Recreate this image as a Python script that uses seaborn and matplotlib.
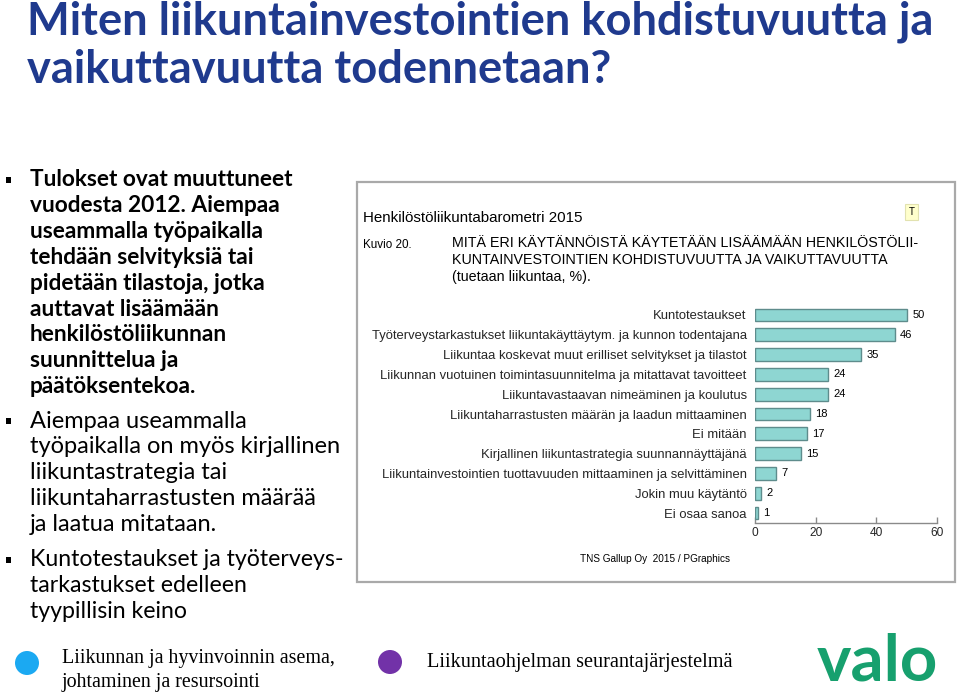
import matplotlib
matplotlib.use("Agg")
import matplotlib.pyplot as plt
import matplotlib.patches as mpatches
import seaborn as sns
import pandas as pd

# ---------------- data ----------------
categories = [
    "Kuntotestaukset",
    "Työterveystarkastukset liikuntakäyttäytym. ja kunnon todentajana",
    "Liikuntaa koskevat muut erilliset selvitykset ja tilastot",
    "Liikunnan vuotuinen toimintasuunnitelma ja mitattavat tavoitteet",
    "Liikuntavastaavan nimeäminen ja koulutus",
    "Liikuntaharrastusten määrän ja laadun mittaaminen",
    "Ei mitään",
    "Kirjallinen liikuntastrategia suunnannäyttäjänä",
    "Liikuntainvestointien tuottavuuden mittaaminen ja selvittäminen",
    "Jokin muu käytäntö",
    "Ei osaa sanoa",
]
values = [50, 46, 35, 24, 24, 18, 17, 15, 7, 2, 1]
x_ticks = [0, 20, 40, 60]

slide_title = ["Miten liikuntainvestointien kohdistuvuutta ja",
               "vaikuttavuutta todennetaan?"]
bullet1 = ["Tulokset ovat muuttuneet", "vuodesta 2012. Aiempaa",
           "useammalla työpaikalla", "tehdään selvityksiä tai",
           "pidetään tilastoja, jotka", "auttavat lisäämään",
           "henkilöstöliikunnan", "suunnittelua ja", "päätöksentekoa."]
bullet2 = ["Aiempaa useammalla", "työpaikalla on myös kirjallinen",
           "liikuntastrategia tai", "liikuntaharrastusten määrää",
           "ja laatua mitataan."]
bullet3 = ["Kuntotestaukset ja työterveys-", "tarkastukset edelleen",
           "tyypillisin keino"]
chart_source = "Henkilöstöliikuntabarometri 2015"
chart_number = "Kuvio 20."
chart_heading = ["MITÄ ERI KÄYTÄNNÖISTÄ KÄYTETÄÄN LISÄÄMÄÄN HENKILÖSTÖLII-",
                 "KUNTAINVESTOINTIEN KOHDISTUVUUTTA JA VAIKUTTAVUUTTA",
                 "(tuetaan liikuntaa, %)."]
chart_credit = "TNS Gallup Oy  2015 / PGraphics"
footer1 = ["Liikunnan ja hyvinvoinnin asema,", "johtaminen ja resursointi"]
footer2 = "Liikuntaohjelman seurantajärjestelmä"

# ---------------- figure ----------------
sns.set_theme(style="white")
plt.rcParams["font.family"] = ["Liberation Sans", "DejaVu Sans"]

W, H = 960, 695
fig = plt.figure(figsize=(W / 100, H / 100), dpi=100)
fig.patch.set_facecolor("white")


def fx(x):
    return x / W


def fy(y):
    return 1 - y / H


# slide title
TITLE_C = "#1F3A8E"
for i, line in enumerate(slide_title):
    fig.text(fx(27), fy(22 + 48 * i), line, fontsize=32.6, fontweight="bold",
             color=TITLE_C, family=["Lato", "DejaVu Sans"], va="center", ha="left")

# left bullet text
BODY_FONT = ["Lato", "DejaVu Sans"]
def bullet_block(lines, y0, weight, size):
    fig.patches.append(mpatches.Rectangle((fx(6), fy(y0 + 3)), 5 / W, 6 / H,
                                          transform=fig.transFigure,
                                          facecolor="black", edgecolor="none"))
    for i, line in enumerate(lines):
        fig.text(fx(30), fy(y0 + 25.8 * i), line, fontsize=size,
                 fontweight=weight, family=BODY_FONT, color="black",
                 va="center", ha="left")

bullet_block(bullet1, 180, "bold", 16.3)
bullet_block(bullet2, 421, "normal", 17)
bullet_block(bullet3, 560, "normal", 16.7)

# chart panel border (behind the axes)
fig.patches.append(mpatches.Rectangle((fx(357), fy(582)), (955 - 357) / W,
                                      (582 - 182) / H, transform=fig.transFigure,
                                      facecolor="none", edgecolor="#A9A9A9",
                                      linewidth=1.6, zorder=-1))

fig.text(fx(363), fy(218), chart_source, fontsize=10.9, va="center", ha="left",
         color="black")
fig.text(fx(363), fy(245), chart_number, fontsize=8.4, va="center", ha="left",
         color="black")
for i, line in enumerate(chart_heading):
    fig.text(fx(452), fy(243 + 17 * i), line, fontsize=10.3, va="center",
             ha="left", color="black")
fig.text(fx(911.5), fy(212), "T", fontsize=7, va="center", ha="center",
         color="black",
         bbox=dict(boxstyle="square,pad=0.35", facecolor="#FFFFCC",
                   edgecolor="#E2E2B0", linewidth=0.8))
fig.text(fx(655), fy(559), chart_credit, fontsize=7.2, va="center", ha="center",
         color="black")

# bar chart
ax = fig.add_axes([fx(755), fy(523), (937 - 755) / W, (523 - 305) / H])
df = pd.DataFrame({"category": categories, "value": values})
sns.barplot(data=df, x="value", y="category", orient="h", color="#8ED6D2",
            edgecolor="#5E8C8C", linewidth=1.0, width=0.64, saturation=1,
            ax=ax)
ax.bar_label(ax.containers[0], labels=[str(v) for v in values], padding=4,
             fontsize=8, color="black")
ax.set_xlim(0, 60)
ax.set_ylim(10.5, -0.5)
ax.set_xticks(x_ticks)
ax.set_xlabel("")
ax.set_ylabel("")
for s in ["top", "right", "left"]:
    ax.spines[s].set_visible(False)
ax.spines["bottom"].set_color("#8A8A8A")
ax.spines["bottom"].set_linewidth(1.0)
ax.tick_params(axis="x", direction="in", length=4, width=1.0, color="#8A8A8A",
               labelsize=8.6, pad=3, bottom=True)
ax.tick_params(axis="y", length=0, labelsize=9.4, pad=6)
ax.set_facecolor("none")

# footer
fig.patches.append(mpatches.Ellipse((fx(27), fy(663)), 24 / W, 24 / H,
                                    transform=fig.transFigure,
                                    facecolor="#1BA9F2", edgecolor="none"))
fig.patches.append(mpatches.Ellipse((fx(390), fy(662)), 24 / W, 24 / H,
                                    transform=fig.transFigure,
                                    facecolor="#7232A8", edgecolor="none"))
SERIF = ["Liberation Serif", "DejaVu Serif"]
for i, line in enumerate(footer1):
    fig.text(fx(62), fy(659 + 24 * i), line, fontsize=14.4, family=SERIF,
             va="center", ha="left", color="black")
fig.text(fx(427), fy(662), footer2, fontsize=14.6, family=SERIF, va="center",
         ha="left", color="black")
fig.text(fx(877), fy(662), "valo", fontsize=47, fontweight="bold",
         color="#17A06E", family=["Lato", "DejaVu Sans"], va="center",
         ha="center")

fig.savefig("out.png", dpi=100, facecolor="white")
